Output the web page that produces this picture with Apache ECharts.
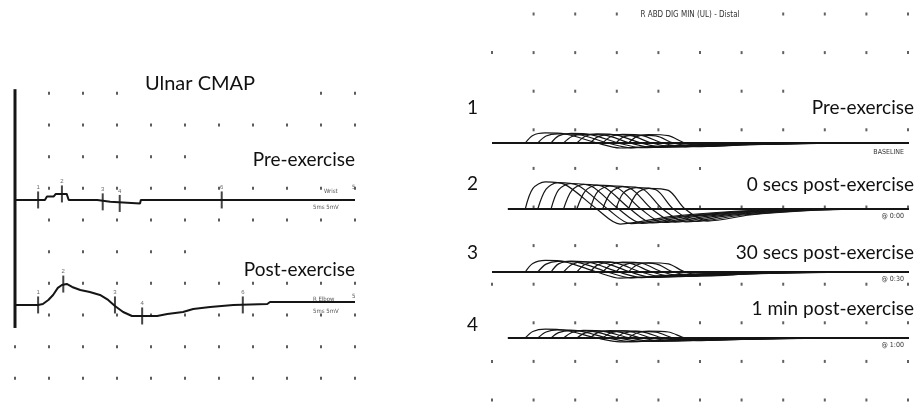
<!DOCTYPE html>
<html>
<head>
<meta charset="utf-8">
<script src="https://cdn.jsdelivr.net/npm/echarts@6/dist/echarts.min.js"></script>
<style>
html, body { margin: 0; padding: 0; background: #fff; }
#main { width: 918px; height: 408px; }
</style>
</head>
<body>
<div id="main"></div>
<script>
// grid ticks (ms across, divisions down)
var colTicks = [0, 5, 10, 15, 20, 25, 30, 35, 40, 45, 50];
var leftRowTicks = [0, 1, 2, 3, 4, 5, 6, 7, 8, 9];
var rightRowTicks = [0, 1, 2, 3, 4, 5, 6, 7, 8, 9, 10];
var leftEdgeRows = [0, 1, 2];
var rightEdgeRows = [0, 1, 3, 9];

// Ulnar CMAP, [ms, mV]
var preTrace = [[0, 0], [4.4, 0], [4.7, 0.55], [5.7, 0.55], [6.0, 0.95], [7.6, 0.95], [7.9, 0],
    [12.1, 0], [12.2, -0.3], [14.0, -0.3], [14.1, -0.55], [18.4, -0.55], [18.5, 0], [50, 0]];
var postTrace = [[0, 0], [3.4, 0], [4.1, 0.16], [4.9, 0.79], [5.6, 1.58], [6.3, 2.69], [6.9, 3.16],
    [7.6, 3.32], [8.4, 2.84], [9.6, 2.37], [11.0, 2.05], [12.5, 1.58], [13.7, 0.79], [14.7, -0.16],
    [15.9, -1.11], [17.2, -1.74], [20.9, -1.74], [22.4, -1.42], [24.7, -1.11], [26.2, -0.63],
    [28.7, -0.32], [32.1, 0], [37.1, 0.16], [37.5, 0.47], [50, 0.47]];
var preMarkTimes = [3.4, 6.9, 12.9, 15.4, 30.4];
var preMarkVals = [0, 0.95, -0.3, -0.55, 0];
var postMarkTimes = [3.4, 7.1, 14.7, 18.7, 33.5];
var postMarkVals = [0, 3.3, 0, -1.74, 0];
var markNames = ['1', '2', '3', '4', '6'];

// R ABD DIG MIN superimposed sweeps: times (ms) shared, values (mV) per run
var sweepTimes = [
    [4.0, 4.9, 6.4, 8.8, 12.6, 15.4, 21.4, 29.2, 36.4],
    [5.5, 6.5, 7.9, 10.3, 13.9, 16.7, 22.6, 30.2, 37.3],
    [7.1, 8.0, 9.5, 11.9, 15.2, 18.0, 23.8, 31.3, 38.3],
    [8.6, 9.6, 11.0, 13.4, 16.6, 19.3, 25.0, 32.4, 39.2],
    [10.2, 11.2, 12.6, 15.0, 17.9, 20.6, 26.2, 33.5, 40.2],
    [11.8, 12.7, 14.2, 16.6, 19.2, 22.0, 27.4, 34.6, 41.2],
    [13.3, 14.3, 15.7, 18.1, 20.5, 23.3, 28.6, 35.6, 42.1],
    [14.9, 15.8, 17.3, 19.7, 21.8, 24.6, 29.8, 36.7, 43.1],
    [16.4, 17.4, 18.8, 21.2, 23.2, 25.9, 31.0, 37.8, 44.0]
];
var sweepsBaseline = [
    [0, 0.98, 1.30, 1.17, 0, -0.65, -0.33, -0.10, 0],
    [0, 0.90, 1.18, 1.10, 0, -0.62, -0.31, -0.09, 0],
    [0, 0.92, 1.25, 1.08, 0, -0.60, -0.30, -0.09, 0],
    [0, 0.85, 1.12, 1.05, 0, -0.57, -0.29, -0.09, 0],
    [0, 0.88, 1.18, 1.02, 0, -0.55, -0.28, -0.08, 0],
    [0, 0.80, 1.08, 0.98, 0, -0.52, -0.26, -0.08, 0],
    [0, 0.85, 1.12, 0.96, 0, -0.49, -0.25, -0.07, 0],
    [0, 0.78, 1.02, 0.92, 0, -0.47, -0.24, -0.07, 0],
    [0, 0.82, 1.10, 0.95, 0, -0.44, -0.22, -0.07, 0]
];
var sweeps0s = [
    [0, 2.63, 3.51, 3.16, 0, -1.95, -0.98, -0.29, 0],
    [0, 2.56, 3.41, 3.07, 0, -1.90, -0.95, -0.29, 0],
    [0, 2.48, 3.30, 2.97, 0, -1.85, -0.93, -0.28, 0],
    [0, 2.40, 3.20, 2.88, 0, -1.80, -0.90, -0.27, 0],
    [0, 2.32, 3.09, 2.78, 0, -1.75, -0.88, -0.26, 0],
    [0, 2.24, 2.99, 2.69, 0, -1.70, -0.85, -0.26, 0],
    [0, 2.17, 2.89, 2.60, 0, -1.66, -0.83, -0.25, 0],
    [0, 2.09, 2.78, 2.50, 0, -1.61, -0.81, -0.24, 0],
    [0, 2.01, 2.68, 2.41, 0, -1.56, -0.78, -0.23, 0]
];
var sweeps30s = [
    [0, 1.10, 1.50, 1.32, 0, -0.80, -0.40, -0.12, 0],
    [0, 1.02, 1.38, 1.25, 0, -0.76, -0.38, -0.11, 0],
    [0, 1.05, 1.42, 1.22, 0, -0.72, -0.36, -0.11, 0],
    [0, 0.98, 1.30, 1.18, 0, -0.69, -0.34, -0.10, 0],
    [0, 1.00, 1.34, 1.15, 0, -0.65, -0.33, -0.10, 0],
    [0, 0.92, 1.24, 1.12, 0, -0.61, -0.31, -0.09, 0],
    [0, 0.95, 1.28, 1.10, 0, -0.58, -0.29, -0.09, 0],
    [0, 0.88, 1.18, 1.06, 0, -0.54, -0.27, -0.08, 0],
    [0, 0.90, 1.20, 1.05, 0, -0.50, -0.25, -0.08, 0]
];
var sweeps1min = [
    [0, 0.85, 1.15, 1.00, 0, -0.50, -0.25, -0.08, 0],
    [0, 0.78, 1.05, 0.95, 0, -0.48, -0.24, -0.07, 0],
    [0, 0.70, 0.95, 0.88, 0, -0.45, -0.23, -0.07, 0],
    [0, 0.72, 0.98, 0.86, 0, -0.43, -0.22, -0.06, 0],
    [0, 0.66, 0.90, 0.82, 0, -0.40, -0.20, -0.06, 0],
    [0, 0.70, 0.95, 0.84, 0, -0.38, -0.19, -0.06, 0],
    [0, 0.68, 0.92, 0.80, 0, -0.35, -0.18, -0.05, 0],
    [0, 0.62, 0.85, 0.76, 0, -0.33, -0.17, -0.05, 0],
    [0, 0.65, 0.88, 0.78, 0, -0.30, -0.15, -0.05, 0]
];
var runStart = [0, 1.9, 0, 1.9];
var runEnd = 50.6;

var INK = '#151515';
var FONT = 'Lato, "Noto Sans", sans-serif';
var NARROW = '"Liberation Sans Narrow", "DejaVu Sans Condensed", sans-serif';

var myChart = echarts.init(document.getElementById('main'));

// grids: 0 left dots, 1 pre, 2 post, 3 right dots, 4-7 runs
var grids = [
    { left: 15, width: 340, top: 93.3, height: 285 },
    { left: 15, width: 340, top: 168.3, height: 63.3 },
    { left: 15, width: 340, top: 273.3, height: 63.3 },
    { left: 492, width: 416, top: 14, height: 386 },
    { left: 492, width: 416, top: 104.4, height: 77.2 },
    { left: 492, width: 416, top: 170.4, height: 77.2 },
    { left: 492, width: 416, top: 233.4, height: 77.2 },
    { left: 492, width: 416, top: 299.4, height: 77.2 }
];
var xAxes = [], yAxes = [];
grids.forEach(function (g, i) {
    xAxes.push({ type: 'value', gridIndex: i, min: 0, max: 50, show: false });
    if (i == 0) {
        yAxes.push({ type: 'value', gridIndex: i, min: 0, max: 9, show: false });
    } else if (i == 3) {
        yAxes.push({ type: 'value', gridIndex: i, min: 0, max: 10, show: false });
    } else {
        yAxes.push({ type: 'value', gridIndex: i, min: -5, max: 5, show: false });
    }
});

function dots(rows, edgeRows) {
    var d = [];
    rows.forEach(function (r) {
        colTicks.forEach(function (c, i) {
            if (i > 0 || edgeRows.indexOf(r) >= 0) d.push([c, r]);
        });
    });
    return d;
}

function zipPairs(xs, ys) {
    return xs.map(function (x, i) { return [x, ys[i]]; });
}

var series = [];
series.push({
    type: 'scatter', xAxisIndex: 0, yAxisIndex: 0, symbol: 'rect', symbolSize: [2, 3],
    itemStyle: { color: '#333' }, data: dots(leftRowTicks, leftEdgeRows), silent: true
});
series.push({
    type: 'scatter', xAxisIndex: 3, yAxisIndex: 3, symbol: 'rect', symbolSize: [2, 3],
    itemStyle: { color: '#3a3a3a' }, data: dots(rightRowTicks, rightEdgeRows), silent: true
});
// left vertical axis bar
series.push({
    type: 'line', xAxisIndex: 0, yAxisIndex: 0, symbol: 'none', clip: false,
    lineStyle: { color: INK, width: 3 }, data: [[0, 9.13], [0, 1.59]]
});
// CMAP traces
[[preTrace, 1, preMarkTimes, preMarkVals], [postTrace, 2, postMarkTimes, postMarkVals]].forEach(function (t) {
    series.push({
        type: 'line', xAxisIndex: t[1], yAxisIndex: t[1], symbol: 'none', clip: false,
        lineStyle: { color: INK, width: 2 }, data: t[0]
    });
    series.push({
        type: 'scatter', xAxisIndex: t[1], yAxisIndex: t[1], symbol: 'rect', symbolSize: [2, 17],
        itemStyle: { color: INK },
        label: {
            show: true, position: 'top', distance: 1, fontSize: 6, color: '#444',
            formatter: function (p) { return markNames[p.dataIndex]; }
        },
        data: zipPairs(t[2], t[3])
    });
});
// superimposed sweeps
[sweepsBaseline, sweeps0s, sweeps30s, sweeps1min].forEach(function (run, r) {
    var g = 4 + r;
    series.push({
        type: 'line', xAxisIndex: g, yAxisIndex: g, symbol: 'none', clip: false,
        lineStyle: { color: INK, width: 2 }, data: [[runStart[r], 0], [runEnd, 0]]
    });
    run.forEach(function (vals, k) {
        series.push({
            type: 'line', xAxisIndex: g, yAxisIndex: g, symbol: 'none', clip: false,
            smooth: 0.3, lineStyle: { color: INK, width: 1.2 },
            data: zipPairs(sweepTimes[k], vals)
        });
    });
});

function txt(text, x, y, size, align, bg, family, color) {
    return {
        type: 'text', x: x, y: y, z: 100,
        style: {
            text: text, font: size + 'px ' + (family || FONT), fill: color || '#111',
            textAlign: align || 'left', textVerticalAlign: 'middle',
            backgroundColor: bg ? '#fff' : null
        }
    };
}
// white patches where the printout leaves dots out around the captions
function blank(x, y, w, h) {
    return { type: 'rect', z: 99, shape: { x: x, y: y, width: w, height: h }, style: { fill: '#fff' } };
}

myChart.setOption({
    animation: false,
    backgroundColor: '#fff',
    grid: grids,
    xAxis: xAxes,
    yAxis: yAxes,
    series: series,
    graphic: [
        blank(135, 87, 165, 12),
        blank(205, 151, 155, 12),
        blank(205, 246, 155, 12),
        blank(730, 163, 188, 10),
        blank(690, 239, 228, 10),
        blank(805, 85, 113, 10),
        blank(625, 9, 130, 11),
        txt('Ulnar CMAP', 200, 84, 20, 'center', true),
        txt('Pre-exercise', 355, 160, 19, 'right', true),
        txt('Post-exercise', 355, 270, 19, 'right', true),
        txt('Wrist', 324, 191, 6, 'left', false, NARROW, '#555'),
        txt('5ms 5mV', 313, 207, 6, 'left', false, NARROW, '#555'),
        txt('5', 352, 187, 6, 'left', false, NARROW, '#555'),
        txt('R Elbow', 313, 299, 6, 'left', false, NARROW, '#555'),
        txt('5ms 5mV', 313, 311, 6, 'left', false, NARROW, '#555'),
        txt('5', 352, 296, 6, 'left', false, NARROW, '#555'),
        txt('R ABD DIG MIN (UL) - Distal', 690, 15, 8, 'center', true, NARROW, '#333'),
        txt('1', 467, 108, 19, 'left'),
        txt('2', 467, 184, 19, 'left'),
        txt('3', 467, 253, 19, 'left'),
        txt('4', 467, 325, 19, 'left'),
        txt('Pre-exercise', 914, 108, 19, 'right', true),
        txt('0 secs post-exercise', 914, 185, 19, 'right', true),
        txt('30 secs post-exercise', 914, 253, 19, 'right', true),
        txt('1 min post-exercise', 914, 309, 19, 'right', true),
        txt('BASELINE', 904, 152, 7, 'right', false, NARROW, '#333'),
        txt('@ 0:00', 904, 216, 7, 'right', false, NARROW, '#333'),
        txt('@ 0:30', 904, 279, 7, 'right', false, NARROW, '#333'),
        txt('@ 1:00', 904, 345, 7, 'right', false, NARROW, '#333')
    ]
});
</script>
</body>
</html>
